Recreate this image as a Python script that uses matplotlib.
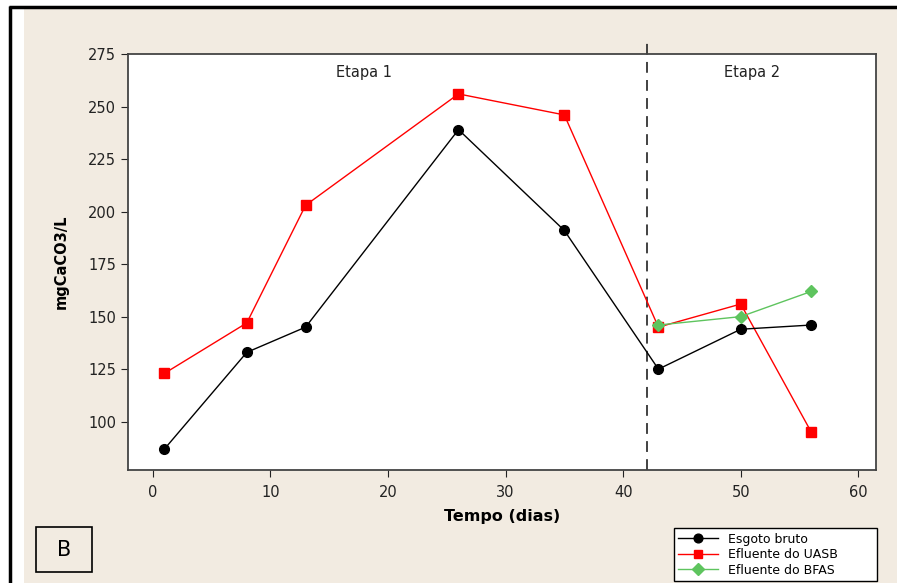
import matplotlib
matplotlib.use("Agg")
import matplotlib.pyplot as plt
from matplotlib.patches import Rectangle
from matplotlib.lines import Line2D

# ---------------------------------------------------------------------------
# Data
# ---------------------------------------------------------------------------
dias = [1, 8, 13, 26, 35, 43, 50, 56]
esgoto_bruto = [87, 133, 145, 239, 191, 125, 144, 146]
efluente_uasb = [123, 147, 203, 256, 246, 145, 156, 95]

dias_bfas = [43, 50, 56]
efluente_bfas = [146, 150, 162]

divisao_etapas = 42
etapas = ["Etapa 1", "Etapa 2"]
etapa_x = [18, 51]

xticks = [0, 10, 20, 30, 40, 50, 60]
yticks = [100, 125, 150, 175, 200, 225, 250, 275]

W, H = 897, 583
BEIGE = "#f2ebe1"

fig = plt.figure(figsize=(W / 100, H / 100), dpi=100)
fig.patch.set_facecolor("white")

# beige panel + black frame lines (scanned-figure look)
fig.patches.append(Rectangle((24 / W, 0), 1 - 24 / W, 1 - 8 / H,
                             transform=fig.transFigure, facecolor=BEIGE,
                             edgecolor="none", zorder=-10))
fig.lines.append(Line2D([9 / W, 1], [1 - 6.5 / H, 1 - 6.5 / H],
                        transform=fig.transFigure, color="black", lw=2.5,
                        solid_capstyle="butt"))
fig.lines.append(Line2D([10 / W, 10 / W], [0, 1 - 6 / H],
                        transform=fig.transFigure, color="black", lw=2.5,
                        solid_capstyle="butt"))

ax = fig.add_axes([128 / W, 1 - 470 / H, (876 - 128) / W, (470 - 54) / H])
ax.set_zorder(1)
ax.set_facecolor("white")

ax.plot(dias, esgoto_bruto, color="black", lw=1, marker="o", ms=7,
        label="Esgoto bruto", zorder=3)
ax.plot(dias, efluente_uasb, color="red", lw=1, marker="s", ms=7,
        label="Efluente do UASB", zorder=2)
ax.plot(dias_bfas, efluente_bfas, color="#5ec45e", lw=1, marker="D", ms=6.5,
        label="Efluente do BFAS", zorder=4)

ax.set_xlim(-2.1, 61.5)
ax.set_ylim(77, 275)
ax.set_xticks(xticks)
ax.set_yticks(yticks)
ax.tick_params(labelsize=10.5, colors="#222222", length=5)
ax.tick_params(axis="x", pad=6)

ax.plot([divisao_etapas, divisao_etapas], [77, 280], color="#333333",
        lw=1.3, ls=(0, (6, 4)), clip_on=False, zorder=1)

for label, x in zip(etapas, etapa_x):
    ax.text(x, 266, label, ha="center", va="center", fontsize=10.5,
            color="#222222")

for s in ax.spines.values():
    s.set_linewidth(1.3)
    s.set_color("#444444")

ax.set_xlabel("Tempo (dias)", fontsize=11.5, fontweight="bold", labelpad=6)
ax.set_ylabel("mgCaCO3/L", fontsize=10.5, fontweight="bold", labelpad=14)

leg = fig.legend(loc="lower left",
                 bbox_to_anchor=(674 / W, 2 / H, (877 - 674) / W, (581 - 511) / H),
                 mode="expand", fontsize=9, frameon=True, fancybox=False,
                 borderpad=0.35, labelspacing=0.2, handlelength=3.2,
                 borderaxespad=0, markerscale=0.9, framealpha=1)
leg.get_frame().set_edgecolor("black")
leg.get_frame().set_facecolor("white")
leg.get_frame().set_linewidth(1)

# panel letter
fig.patches.append(Rectangle((36 / W, 1 - 572 / H), 56 / W, 45 / H,
                             transform=fig.transFigure, facecolor="none",
                             edgecolor="black", lw=1.2))
fig.text(64 / W, 1 - 550 / H, "B", ha="center", va="center", fontsize=15)

fig.savefig("out.png", dpi=100, facecolor=fig.get_facecolor())
